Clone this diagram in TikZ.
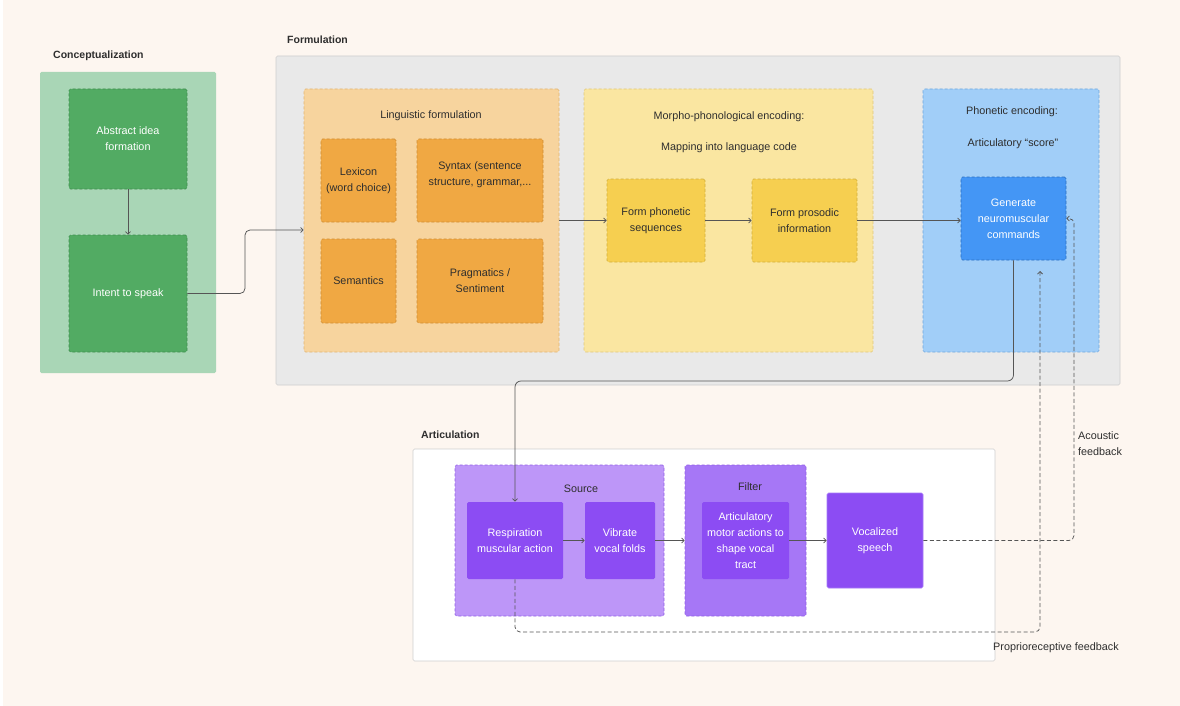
\documentclass[tikz,border=0pt]{standalone}
\usepackage{fontspec}
\setmainfont{Liberation Sans}
\usetikzlibrary{arrows.meta,calc}
\definecolor{bgc}{HTML}{FDF6F0}
\definecolor{grL}{HTML}{A9D6B6}
\definecolor{grD}{HTML}{52AB63}
\definecolor{grB}{HTML}{3F8E4F}
\definecolor{gyF}{HTML}{E9E9E9}
\definecolor{gyB}{HTML}{CFCFCF}
\definecolor{orL}{HTML}{F7D49E}
\definecolor{orLB}{HTML}{E2B573}
\definecolor{orD}{HTML}{F0A843}
\definecolor{orDB}{HTML}{CF8C32}
\definecolor{yeL}{HTML}{FAE6A1}
\definecolor{yeLB}{HTML}{E0C77A}
\definecolor{yeD}{HTML}{F6CF50}
\definecolor{yeDB}{HTML}{D2AE3A}
\definecolor{blL}{HTML}{A1CEF8}
\definecolor{blLB}{HTML}{6FA7DE}
\definecolor{blD}{HTML}{4496F5}
\definecolor{blDB}{HTML}{2B6FC0}
\definecolor{puL}{HTML}{BD96F8}
\definecolor{puLB}{HTML}{9160E6}
\definecolor{puM}{HTML}{A677F6}
\definecolor{puD}{HTML}{8C4CF3}
\definecolor{puDB}{HTML}{A77AF7}
\definecolor{txt}{HTML}{2E2E2E}
\definecolor{lnc}{HTML}{555555}
\newcommand{\fs}{\fontsize{10.8}{16}\selectfont}
\newcommand{\fb}{\fontsize{10.5}{14}\selectfont\bfseries}
\begin{document}
\begin{tikzpicture}[x=1pt,y=-1pt,
  bx/.style={rectangle, rounded corners=1.5pt, inner sep=0pt, align=center, font=\fs, line width=0.6pt},
  dsh/.style={dash pattern=on 3pt off 2pt},
  head/.style={font=\fb, text=txt, anchor=west, inner sep=0pt, yshift=-1.5pt},
  ttl/.style={font=\fs, text=txt, inner sep=0pt, yshift=-1.5pt},
  conn/.style={draw=lnc, line width=0.75pt, -{Straight Barb[length=2.5pt,width=5pt]}},
  fbk/.style={conn, dash pattern=on 4pt off 2.5pt, rounded corners=5pt}
]
\useasboundingbox (0,0) rectangle (1180,706);
\fill[white] (0,0) rectangle (1180,706);
\fill[bgc] (3,0) rectangle (1180,706);

% Conceptualization
\node[head] (hconc) at (53,54) {Conceptualization};
\node[bx, fill=grL, minimum width=176pt, minimum height=301pt] (conc) at (128,222.5) {};
\node[bx, fill=grD, draw=grB, dsh, text=white, minimum width=118pt, minimum height=100pt] (abs) at (128,139) {Abstract idea\\formation};
\node[bx, fill=grD, draw=grB, dsh, text=white, minimum width=118pt, minimum height=117pt] (intent) at (128,293.5) {Intent to speak};

% Formulation
\node[head] (hform) at (287,38) {Formulation};
\node[bx, fill=gyF, draw=gyB, minimum width=844pt, minimum height=329pt] (form) at (698,220.5) {};

\node[bx, fill=orL, draw=orLB, dsh, minimum width=255pt, minimum height=263pt] (ling) at (431.5,220.5) {};
\node[ttl] (tling) at (431,114) {Linguistic formulation};
\node[bx, fill=orD, draw=orDB, dsh, text=txt, minimum width=75pt, minimum height=83pt] (lex) at (358.5,180.5) {Lexicon\\(word choice)};
\node[bx, fill=orD, draw=orDB, dsh, minimum width=126pt, minimum height=83pt] (syn) at (480,180.5) {};
\node[ttl, align=center] (tsyn) at (480,173) {Syntax (sentence\\structure, grammar,...};
\node[bx, fill=orD, draw=orDB, dsh, text=txt, minimum width=75pt, minimum height=84pt] (sem) at (358.5,281) {Semantics};
\node[bx, fill=orD, draw=orDB, dsh, text=txt, minimum width=126pt, minimum height=84pt] (prag) at (480,281) {Pragmatics /\\Sentiment};

\node[bx, fill=yeL, draw=yeLB, dsh, minimum width=289pt, minimum height=263pt] (morph) at (728.5,220.5) {};
\node[ttl] (tmorph1) at (729,115) {Morpho-phonological encoding:};
\node[ttl] (tmorph2) at (729,146) {Mapping into language code};
\node[bx, fill=yeD, draw=yeDB, dsh, text=txt, minimum width=98pt, minimum height=83pt] (fps) at (656,220.5) {Form phonetic\\sequences};
\node[bx, fill=yeD, draw=yeDB, dsh, text=txt, minimum width=105pt, minimum height=83pt] (fpi) at (804.5,220.5) {Form prosodic\\information};

\node[bx, fill=blL, draw=blLB, dsh, minimum width=176pt, minimum height=263pt] (phon) at (1011,220.5) {};
\node[ttl] (tphon1) at (1012,110) {Phonetic encoding:};
\node[ttl] (tphon2) at (1013,142) {Articulatory “score”};
\node[bx, fill=blD, draw=blDB, dsh, text=white, minimum width=105pt, minimum height=83pt] (gen) at (1013.5,218.5) {Generate\\neuromuscular\\commands};

% Articulation
\node[head] (hart) at (421,433) {Articulation};
\node[bx, fill=white, draw=gyB, minimum width=582pt, minimum height=212pt] (artic) at (704,555) {};
\node[bx, fill=puL, draw=puLB, dsh, minimum width=209pt, minimum height=151pt] (src) at (559.5,540.5) {};
\node[ttl] (tsrc) at (581,487) {Source};
\node[bx, fill=puD, text=white, minimum width=96pt, minimum height=77pt] (resp) at (515,540.5) {Respiration\\muscular action};
\node[bx, fill=puD, text=white, minimum width=70pt, minimum height=77pt] (vib) at (620,540.5) {Vibrate\\vocal folds};
\node[bx, fill=puM, draw=puLB, dsh, minimum width=121pt, minimum height=151pt] (filt) at (745.5,540.5) {};
\node[ttl] (tfilt) at (750,485) {Filter};
\node[bx, fill=puD, text=white, minimum width=87pt, minimum height=77pt] (artm) at (745.5,540.5) {Articulatory\\motor actions to\\shape vocal\\tract};
\node[bx, fill=puD, draw=puDB, text=white, minimum width=96pt, minimum height=95pt] (voc) at (875,540.5) {Vocalized\\speech};

% feedback labels
\node[ttl, anchor=north west, align=left] (lac) at (1078,430) {Acoustic\\feedback};
\node[ttl, anchor=west] (lpr) at (993,646) {Proprioreceptive feedback};

% helper coordinates
\coordinate (yl) at (0,230);
\coordinate (xl) at (245,0);
\coordinate (yr) at (0,381);
\coordinate (xa) at (1074,0);
\coordinate (yp) at (0,632);
\coordinate (xp) at (1040,0);
\coordinate (pend) at (1040,271);

% connectors
\draw[conn] (abs.south) -- (intent.north);
\draw[conn, rounded corners=5pt] (intent.east) -- (xl |- intent.east) -- (xl |- yl) -- (ling.west |- yl);
\draw[conn] (ling.east) -- (fps.west);
\draw[conn] (fps.east) -- (fpi.west);
\draw[conn] (fpi.east) -- (fpi.east -| gen.west);
\draw[conn, rounded corners=6pt] (gen.south) -- (gen.south |- yr) -- (resp.north |- yr) -- (resp.north);
\draw[conn] (resp.east) -- (vib.west);
\draw[conn] (vib.east) -- (filt.west);
\draw[conn] (artm.east) -- (voc.west);
\draw[fbk] (voc.east) -- (xa |- voc.east) -- (xa |- gen.east) -- (gen.east);
\draw[fbk] (resp.south) -- (resp.south |- yp) -- (xp |- yp) -- (pend);
\end{tikzpicture}
\end{document}
